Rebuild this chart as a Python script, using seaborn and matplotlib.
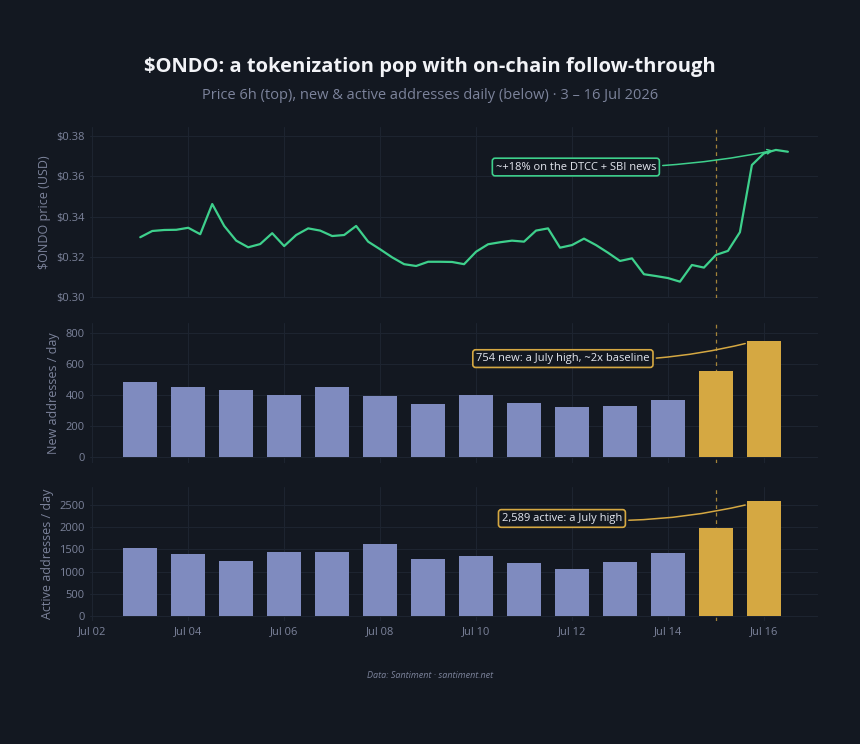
import numpy as np
import pandas as pd
import seaborn as sns
import matplotlib.pyplot as plt
import matplotlib.dates as mdates

# Price, 6h candles, Jul 03 00:00 -> Jul 16 12:00
price = [0.3297, 0.3328, 0.3333, 0.3334, 0.3344, 0.3312, 0.3462, 0.3353, 0.3280, 0.3247,
         0.3263, 0.3317, 0.3253, 0.3308, 0.3341, 0.3330, 0.3303, 0.3308, 0.3353, 0.3275,
         0.3237, 0.3197, 0.3163, 0.3154, 0.3175, 0.3175, 0.3174, 0.3163, 0.3225, 0.3262,
         0.3272, 0.3280, 0.3275, 0.3330, 0.3341, 0.3245, 0.3258, 0.3290, 0.3258, 0.3220,
         0.3179, 0.3192, 0.3113, 0.3104, 0.3094, 0.3076, 0.3159, 0.3146, 0.3209, 0.3229,
         0.3322, 0.3656, 0.3714, 0.3731, 0.3722]
price_time = pd.date_range("2026-07-03 00:00", periods=len(price), freq="6h")

# Daily on-chain metrics, Jul 03 -> Jul 16
days = pd.date_range("2026-07-03", "2026-07-16", freq="D")
new_addr = [487, 455, 431, 401, 455, 397, 345, 403, 351, 325, 330, 366, 559, 754]
active_addr = [1521, 1401, 1245, 1432, 1432, 1617, 1276, 1350, 1194, 1061, 1217, 1417, 1973, 2589]
news_day = pd.Timestamp("2026-07-15")

title = "$ONDO: a tokenization pop with on-chain follow-through"
subtitle = "Price 6h (top), new & active addresses daily (below) · 3 – 16 Jul 2026"
source = "Data: Santiment · santiment.net"

BG = "#131821"
GRID = "#1d2430"
MUTED = "#7c839b"
GREEN = "#3ed08c"
BAR = "#7f8bbf"
GOLD = "#d5a842"
TXT = "#e4e7ef"

sns.set_theme(style="dark")
plt.rcParams["font.family"] = ["Open Sans", "DejaVu Sans"]
plt.rcParams["text.parse_math"] = False

fig = plt.figure(figsize=(8.6, 7.44), dpi=100, facecolor=BG)
ax1 = fig.add_axes([0.105, 0.5995, 0.846, 0.2298])
ax2 = fig.add_axes([0.105, 0.3777, 0.846, 0.188])
ax3 = fig.add_axes([0.105, 0.1653, 0.846, 0.180])

x0 = pd.Timestamp("2026-07-02") - pd.Timedelta(hours=1)
x1 = pd.Timestamp("2026-07-17 03:00")

price_df = pd.DataFrame({"time": price_time, "price": price})
sns.lineplot(data=price_df, x="time", y="price", ax=ax1, color=GREEN, lw=1.6)
ax1.set_ylim(0.2995, 0.3845)
ax1.set_yticks([0.30, 0.32, 0.34, 0.36, 0.38])
ax1.set_yticklabels([f"${v:.2f}" for v in [0.30, 0.32, 0.34, 0.36, 0.38]])
ax1.set_ylabel("$ONDO price (USD)")

cols = [GOLD if d >= news_day else BAR for d in days]
ax2.bar(days, new_addr, width=0.7, color=cols, edgecolor="none", linewidth=0, zorder=2)
ax2.set_ylim(-40, max(new_addr) * 1.15)
ax2.set_yticks([0, 200, 400, 600, 800])
ax2.set_ylabel("New addresses / day")

ax3.bar(days, active_addr, width=0.7, color=cols, edgecolor="none", linewidth=0, zorder=2)
ax3.set_ylim(-110, max(active_addr) * 1.12)
ax3.set_yticks([0, 500, 1000, 1500, 2000, 2500])
ax3.set_ylabel("Active addresses / day")

for ax in (ax1, ax2, ax3):
    ax.set_facecolor(BG)
    ax.set_xlim(x0, x1)
    ax.xaxis.set_major_locator(mdates.DayLocator(bymonthday=range(2, 32, 2)))
    ax.xaxis.set_major_formatter(mdates.DateFormatter("%b %d"))
    ax.grid(True, color=GRID, lw=0.8)
    ax.set_axisbelow(True)
    for s in ax.spines.values():
        s.set_visible(False)
    ax.tick_params(colors=MUTED, labelsize=8, length=0, pad=4)
    ax.yaxis.label.set_color(MUTED)
    ax.yaxis.label.set_size(9)
    ax.set_xlabel("")
    ax.axvline(news_day, color=GOLD, lw=0.9, ls=(0, (3, 3)), alpha=0.75, zorder=3)
for ax in (ax1, ax2):
    ax.tick_params(labelbottom=False)

box = dict(boxstyle="round,pad=0.3,rounding_size=0.25", fc=BG, lw=1.2)
ax1.annotate("~+18% on the DTCC + SBI news",
             xy=(price_time[53], price[53]),
             xytext=(pd.Timestamp("2026-07-02") + pd.Timedelta(days=10.08), 0.3646),
             ha="center", va="center", color=TXT, fontsize=8,
             bbox={**box, "ec": GREEN},
             arrowprops=dict(arrowstyle="->", color=GREEN, lw=1.1,
                             connectionstyle="arc3,rad=0.06"))
ax2.annotate("754 new: a July high, ~2x baseline",
             xy=(days[-1] - pd.Timedelta(hours=8), new_addr[-1] * 0.98),
             xytext=(pd.Timestamp("2026-07-02") + pd.Timedelta(days=9.81), 637),
             ha="center", va="center", color=TXT, fontsize=8,
             bbox={**box, "ec": GOLD},
             arrowprops=dict(arrowstyle="-", color=GOLD, lw=1.1,
                             connectionstyle="arc3,rad=0.08"))
ax3.annotate("2,589 active: a July high",
             xy=(days[-1] - pd.Timedelta(hours=8), active_addr[-1] * 0.97),
             xytext=(pd.Timestamp("2026-07-02") + pd.Timedelta(days=9.79), 2195),
             ha="center", va="center", color=TXT, fontsize=8,
             bbox={**box, "ec": GOLD},
             arrowprops=dict(arrowstyle="-", color=GOLD, lw=1.1,
                             connectionstyle="arc3,rad=0.08"))

fig.text(0.5, 0.91, title, ha="center", va="center", color="#f2f3f7",
         fontsize=14.5, fontweight="bold")
fig.text(0.5, 0.871, subtitle, ha="center", va="center", color=MUTED, fontsize=10.5)
fig.text(0.5, 0.0927, source, ha="center", va="center", color=MUTED,
         fontsize=6.5, style="italic")

fig.savefig("out.png", dpi=100, facecolor=BG)
